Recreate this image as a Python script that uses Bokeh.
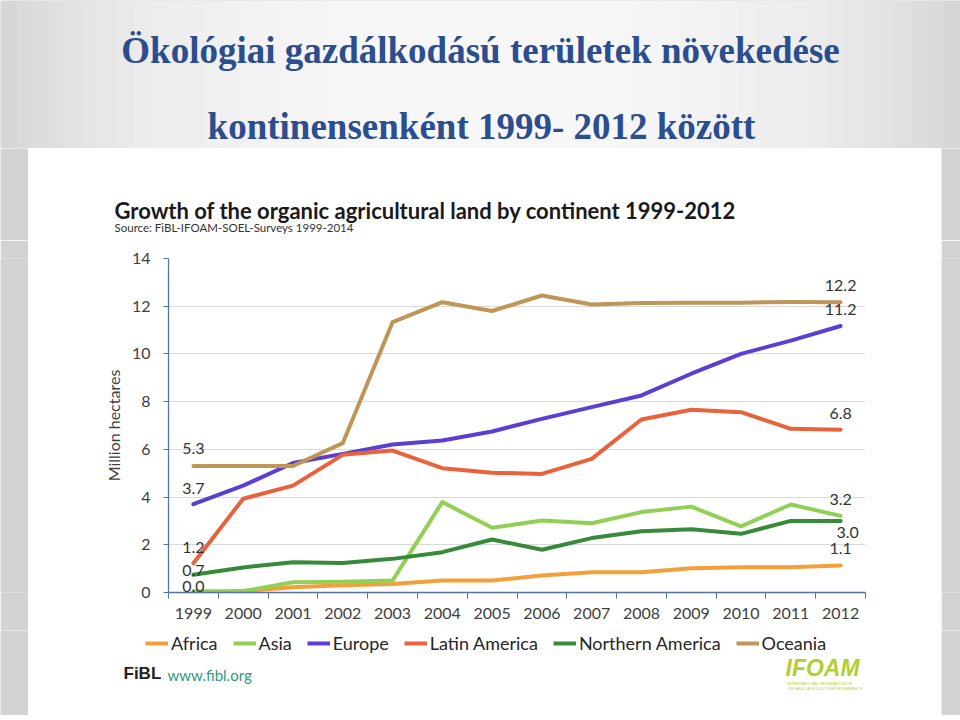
import numpy as np
from bokeh.plotting import figure
from bokeh.layouts import column, row
from bokeh.models import (Range1d, FixedTicker, Label, LabelSet, ColumnDataSource,
                          Legend, LegendItem)
from bokeh.core.properties import value
from bokeh.embed import file_html
from bokeh.resources import INLINE

# ---------------- data ----------------
years = list(range(1999, 2013))
africa = [0.0, 0.06, 0.22, 0.3, 0.36, 0.5, 0.5, 0.71, 0.85, 0.85, 1.02, 1.06, 1.06, 1.13]
asia = [0.05, 0.05, 0.43, 0.45, 0.5, 3.79, 2.71, 3.02, 2.9, 3.37, 3.6, 2.77, 3.69, 3.21]
europe = [3.7, 4.48, 5.43, 5.81, 6.2, 6.37, 6.75, 7.28, 7.77, 8.26, 9.17, 10.0, 10.56, 11.17]
latin_america = [1.23, 3.93, 4.48, 5.77, 5.95, 5.21, 5.02, 4.97, 5.6, 7.25, 7.66, 7.56, 6.86, 6.82]
northern_america = [0.74, 1.05, 1.27, 1.24, 1.41, 1.69, 2.22, 1.79, 2.28, 2.57, 2.65, 2.46, 3.0, 3.0]
oceania = [5.3, 5.3, 5.3, 6.26, 11.33, 12.17, 11.8, 12.45, 12.07, 12.13, 12.15, 12.15, 12.18, 12.17]

series_names = ["Africa", "Asia", "Europe", "Latin America", "Northern America", "Oceania"]
series_values = [africa, asia, europe, latin_america, northern_america, oceania]
y_ticks = [0, 2, 4, 6, 8, 10, 12, 14]

title_1 = "Ökológiai gazdálkodású területek növekedése"
title_2 = "kontinensenként 1999- 2012 között"
chart_title = "Growth of the organic agricultural land  by continent 1999-2012"
chart_source = "Source: FiBL-IFOAM-SOEL-Surveys 1999-2014"
y_label = "Million hectares"

start_labelled = ["Oceania", "Europe", "Latin America", "Northern America", "Africa"]
end_labelled = ["Oceania", "Europe", "Latin America", "Asia", "Northern America", "Africa"]

# ---------------- styles ----------------
colors = ["#f4a03a", "#92cf55", "#5a3fd2", "#e8623c", "#378a3a", "#c09658"]
start_yoff = [18, 16, 16, 4, 6]
end_yoff = [17, 17, 16, 16, -12, 17]
end_xoff = [0, 0, 0, 0, 7, 0]
FONT = "Lato"
TXT = "#404040"
AXIS = "#5573a5"
GRAY = "#d2d2d2"
TITLE_C = "#2c4d8e"


def blank(w, h, xr, yr, bg):
    f = figure(width=w, height=h, output_backend="svg", toolbar_location=None, tools="",
               x_axis_type=None, y_axis_type=None, x_range=xr, y_range=yr,
               min_border=0, min_border_left=0, min_border_right=0,
               min_border_top=0, min_border_bottom=0)
    f.title.visible = False
    f.outline_line_color = None
    f.background_fill_color = bg
    f.border_fill_color = bg
    f.xgrid.visible = False
    f.ygrid.visible = False
    return f


def add_label(fig, text, x, y, size, color, font=FONT, style="normal", align="left"):
    fig.add_layout(Label(x=x, y=y, text=text, text_font=font, text_font_size=size,
                         text_font_style=style, text_color=color, text_align=align,
                         text_baseline="middle"))


def framed(fig, h):
    return row(blank(28, h, Range1d(0, 1), Range1d(0, 1), GRAY), fig,
               blank(19, h, Range1d(0, 1), Range1d(0, 1), GRAY), spacing=0)


# ---------------- header (page y 0..148) ----------------
header = blank(960, 148, Range1d(0, 960), Range1d(148, 0), GRAY)
# soft horizontal gradient: nested translucent white bands (decorative background)
n_bands = 24
band_half = [480 * (1 - k / n_bands) ** 0.8 for k in range(n_bands)]
header.quad(left=[480 - b for b in band_half], right=[480 + b for b in band_half],
            top=[0] * n_bands, bottom=[148] * n_bands,
            fill_color="white", fill_alpha=0.1, line_color=None)
add_label(header, title_1, 480, 50, "37px", TITLE_C, font="Liberation Serif", style="bold",
          align="center")
add_label(header, title_2, 481, 126, "37px", TITLE_C, font="Liberation Serif", style="bold",
          align="center")

# ---------------- chart heading (page x 28..941, y 148..240) ----------------
head = blank(913, 92, Range1d(28, 941), Range1d(240, 148), "white")
add_label(head, chart_title, 114, 210, "22px", "#1a1a1a", style="bold")
add_label(head, chart_source, 114, 227, "11.5px", "#333333")

# ---------------- chart (page x 28..941, y 240..630) ----------------
p = figure(width=913, height=390, output_backend="svg", toolbar_location=None, tools="",
           x_range=Range1d(1998.5, 2012.5), y_range=Range1d(0, 14),
           min_border_left=140, min_border_right=76, min_border_top=18, min_border_bottom=38)
p.title.visible = False
p.border_fill_color = "white"
p.background_fill_color = "white"
p.outline_line_color = None

p.xgrid.visible = False
p.ygrid.grid_line_color = "#d9d9d9"
p.ygrid.ticker = FixedTicker(ticks=y_ticks)
p.yaxis.ticker = FixedTicker(ticks=y_ticks)
p.yaxis.minor_tick_line_color = None
p.yaxis.major_tick_out = 5
p.yaxis.major_tick_in = 0
p.yaxis.major_tick_line_color = AXIS
p.yaxis.major_label_standoff = 13
p.yaxis.axis_label = y_label
p.yaxis.axis_label_standoff = 6
p.yaxis.axis_label_text_font = FONT
p.yaxis.axis_label_text_font_style = "normal"
p.yaxis.axis_label_text_font_size = "16px"
p.yaxis.axis_label_text_color = TXT

bounds = [y - 0.5 for y in years] + [years[-1] + 0.5]
p.xaxis.ticker = FixedTicker(ticks=years, minor_ticks=bounds)
p.xaxis.major_tick_line_color = None
p.xaxis.minor_tick_line_color = AXIS
p.xaxis.minor_tick_out = 6
p.xaxis.minor_tick_in = 0
p.xaxis.major_label_standoff = 9

for ax in (p.xaxis, p.yaxis):
    ax.axis_line_color = AXIS
    ax.axis_line_width = 1.3
    ax.major_label_text_font = FONT
    ax.major_label_text_font_size = "16px"
    ax.major_label_text_color = TXT

for name, vals, col in zip(series_names, series_values, colors):
    p.line(years, vals, line_width=4, line_color=col, line_join="round", line_cap="round")

lookup = dict(zip(series_names, series_values))
lx, ly, lt = [], [], []
for name in start_labelled:
    v = lookup[name][0]
    lx.append(years[0]); ly.append(v); lt.append(f"{v:.1f}")
for name in end_labelled:
    v = lookup[name][-1]
    lx.append(years[-1]); ly.append(v); lt.append(f"{v:.1f}")
src = ColumnDataSource(dict(x=lx, y=ly, text=lt, yo=start_yoff + end_yoff,
                            xo=[0] * len(start_labelled) + end_xoff))
p.add_layout(LabelSet(x="x", y="y", text="text", source=src, x_offset="xo", y_offset="yo",
                      text_align="center", text_baseline="middle", text_font=value(FONT),
                      text_font_size="16px", text_color="#333333"))

# ---------------- bottom: legend + logos (page x 28..941, y 630..715) ----------------
bottom = blank(913, 85, Range1d(28, 941), Range1d(715, 630), "white")
items = []
for name, col in zip(series_names, colors):
    r = bottom.line(x=[np.nan], y=[np.nan], line_width=4, line_color=col)
    items.append(LegendItem(label=name, renderers=[r]))
legend = Legend(items=items, orientation="horizontal", location=(145 - 28, 715 - 654),
                glyph_width=23, glyph_height=20, label_height=20, label_standoff=3,
                spacing=15, padding=0, margin=0, border_line_color=None,
                background_fill_alpha=0, label_text_font=FONT,
                label_text_font_size="18px", label_text_color="#262626")
bottom.add_layout(legend)

add_label(bottom, "FiBL", 123, 673, "17px", "#222222", font="Liberation Sans", style="bold")
add_label(bottom, "www.fibl.org", 167, 674, "15px", "#2a9a80")
add_label(bottom, "IFOAM", 785, 667, "23px", "#b3cf2f", font="Liberation Sans",
          style="bold italic")
add_label(bottom, "INTERNATIONAL FEDERATION OF", 787, 683, "4px", "#b3cf2f",
          font="Liberation Sans")
add_label(bottom, "ORGANIC AGRICULTURE MOVEMENTS", 787, 688, "4px", "#b3cf2f",
          font="Liberation Sans")

foot = blank(960, 5, Range1d(0, 1), Range1d(0, 1), GRAY)

layout = column(header, framed(head, 92), framed(p, 390), framed(bottom, 85), foot, spacing=0)
open("out.html", "w").write(file_html(layout, INLINE))
